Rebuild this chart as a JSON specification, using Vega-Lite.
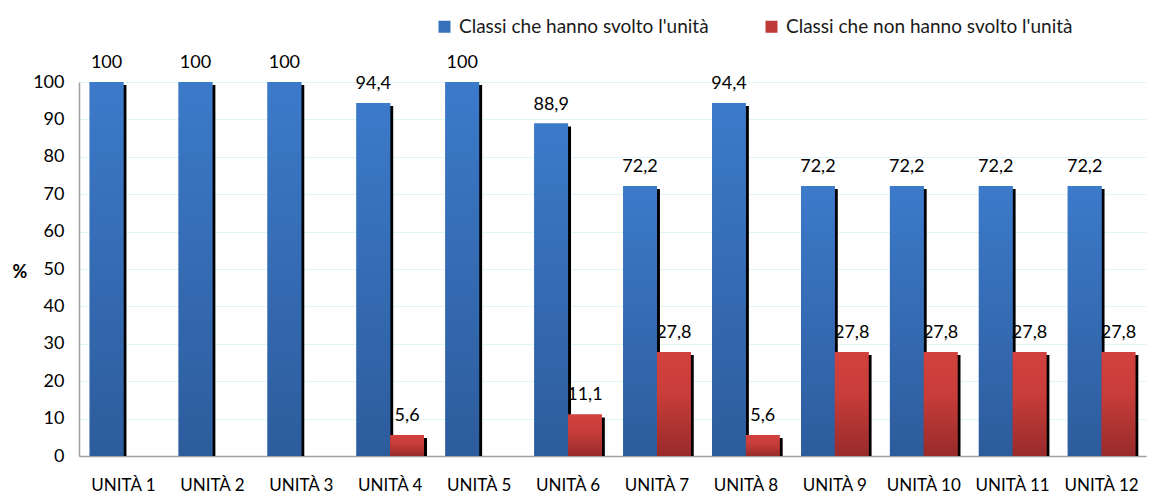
{
  "$schema": "https://vega.github.io/schema/vega-lite/v6.json",
  "width": 1067,
  "height": 374,
  "autosize": {"type": "none"},
  "padding": {"left": 79, "top": 82, "right": 4, "bottom": 40},
  "config": {
    "locale": {"number": {"decimal": ",", "thousands": ".", "grouping": [3], "currency": ["€", ""]}},
    "font": "Lato",
    "view": {"stroke": null}
  },
  "data": {
    "values": [
      {"unita": "UNITÀ 1", "serie": "Classi che hanno svolto l'unità", "valore": 100},
      {"unita": "UNITÀ 1", "serie": "Classi che non hanno svolto l'unità", "valore": 0},
      {"unita": "UNITÀ 2", "serie": "Classi che hanno svolto l'unità", "valore": 100},
      {"unita": "UNITÀ 2", "serie": "Classi che non hanno svolto l'unità", "valore": 0},
      {"unita": "UNITÀ 3", "serie": "Classi che hanno svolto l'unità", "valore": 100},
      {"unita": "UNITÀ 3", "serie": "Classi che non hanno svolto l'unità", "valore": 0},
      {"unita": "UNITÀ 4", "serie": "Classi che hanno svolto l'unità", "valore": 94.4},
      {"unita": "UNITÀ 4", "serie": "Classi che non hanno svolto l'unità", "valore": 5.6},
      {"unita": "UNITÀ 5", "serie": "Classi che hanno svolto l'unità", "valore": 100},
      {"unita": "UNITÀ 5", "serie": "Classi che non hanno svolto l'unità", "valore": 0},
      {"unita": "UNITÀ 6", "serie": "Classi che hanno svolto l'unità", "valore": 88.9},
      {"unita": "UNITÀ 6", "serie": "Classi che non hanno svolto l'unità", "valore": 11.1},
      {"unita": "UNITÀ 7", "serie": "Classi che hanno svolto l'unità", "valore": 72.2},
      {"unita": "UNITÀ 7", "serie": "Classi che non hanno svolto l'unità", "valore": 27.8},
      {"unita": "UNITÀ 8", "serie": "Classi che hanno svolto l'unità", "valore": 94.4},
      {"unita": "UNITÀ 8", "serie": "Classi che non hanno svolto l'unità", "valore": 5.6},
      {"unita": "UNITÀ 9", "serie": "Classi che hanno svolto l'unità", "valore": 72.2},
      {"unita": "UNITÀ 9", "serie": "Classi che non hanno svolto l'unità", "valore": 27.8},
      {"unita": "UNITÀ 10", "serie": "Classi che hanno svolto l'unità", "valore": 72.2},
      {"unita": "UNITÀ 10", "serie": "Classi che non hanno svolto l'unità", "valore": 27.8},
      {"unita": "UNITÀ 11", "serie": "Classi che hanno svolto l'unità", "valore": 72.2},
      {"unita": "UNITÀ 11", "serie": "Classi che non hanno svolto l'unità", "valore": 27.8},
      {"unita": "UNITÀ 12", "serie": "Classi che hanno svolto l'unità", "valore": 72.2},
      {"unita": "UNITÀ 12", "serie": "Classi che non hanno svolto l'unità", "valore": 27.8}
    ]
  },
  "transform": [{"filter": "datum.valore > 0"}],
  "encoding": {
    "x": {
      "field": "unita", "type": "nominal", "sort": null,
      "scale": {"paddingInner": 0.24, "paddingOuter": 0.12},
      "axis": {
        "title": null, "labelAngle": 0, "labelFontSize": 17, "labelColor": "#000000",
        "labelPadding": 21, "ticks": false, "domainColor": "#A0A0A0", "domainWidth": 1.5,
        "grid": false
      }
    },
    "y": {
      "field": "valore", "type": "quantitative",
      "scale": {"domain": [0, 100], "nice": false},
      "axis": {
        "title": "%", "titleAngle": 0, "titleFontSize": 18, "titleFontWeight": "bold",
        "titleColor": "#000000", "titleX": -67, "titleY": 190, "titleAlign": "left",
        "titleBaseline": "middle",
        "values": [0, 10, 20, 30, 40, 50, 60, 70, 80, 90, 100],
        "labelFontSize": 18, "labelColor": "#000000", "labelPadding": 15, "ticks": false,
        "domainColor": "#A0A0A0", "domainWidth": 1.5,
        "grid": true, "gridColor": "#DDF6F8", "gridWidth": 1
      }
    }
  },
  "layer": [
    {
      "transform": [{"filter": "datum.serie == \"Classi che hanno svolto l'unità\""}],
      "mark": {"type": "bar", "color": "#000000", "width": {"band": 0.5}, "xOffset": -13.9, "yOffset": 3, "clip": true}
    },
    {
      "transform": [{"filter": "datum.serie == \"Classi che non hanno svolto l'unità\""}],
      "mark": {"type": "bar", "color": "#000000", "width": {"band": 0.5}, "xOffset": 19.9, "yOffset": 3, "clip": true}
    },
    {
      "mark": {"type": "bar"},
      "encoding": {
        "xOffset": {
          "field": "serie", "type": "nominal", "sort": null,
          "scale": {"paddingInner": 0, "paddingOuter": 0}
        },
        "color": {
          "field": "serie", "type": "nominal", "sort": null,
          "scale": {"range": ["#3670BA", "#BE3A38"]},
          "legend": {
            "title": null, "orient": "none", "direction": "horizontal",
            "legendX": 356, "legendY": -65, "symbolType": "square", "symbolSize": 144,
            "symbolStrokeWidth": 0, "labelFontSize": 19, "labelColor": "#1a1a1a",
            "columnPadding": 53, "labelOffset": 5, "labelLimit": 0
          }
        }
      }
    },
    {
      "transform": [{"filter": "datum.serie == \"Classi che hanno svolto l'unità\""}],
      "mark": {
        "type": "bar", "width": {"band": 0.5}, "xOffset": -16.9,
        "color": {
          "x1": 0, "y1": 0, "x2": 0, "y2": 1, "gradient": "linear",
          "stops": [{"offset": 0, "color": "#3C7ACA"}, {"offset": 1, "color": "#2D5C9C"}]
        }
      }
    },
    {
      "transform": [{"filter": "datum.serie == \"Classi che non hanno svolto l'unità\""}],
      "mark": {
        "type": "bar", "width": {"band": 0.5}, "xOffset": 16.9,
        "color": {
          "x1": 0, "y1": 0, "x2": 0, "y2": 1, "gradient": "linear",
          "stops": [{"offset": 0, "color": "#D2413D"}, {"offset": 0.4, "color": "#C83D3A"}, {"offset": 1, "color": "#982B2B"}]
        }
      }
    },
    {
      "transform": [{"filter": "datum.serie == \"Classi che hanno svolto l'unità\""}],
      "mark": {"type": "text", "baseline": "alphabetic", "dy": -14, "xOffset": -16.9, "fontSize": 18, "color": "#000000"},
      "encoding": {
        "text": {"field": "valore", "type": "quantitative", "format": ".1~f"}
      }
    },
    {
      "transform": [{"filter": "datum.serie == \"Classi che non hanno svolto l'unità\""}],
      "mark": {"type": "text", "baseline": "alphabetic", "dy": -14, "xOffset": 16.9, "fontSize": 18, "color": "#000000"},
      "encoding": {
        "text": {"field": "valore", "type": "quantitative", "format": ".1~f"}
      }
    }
  ]
}
